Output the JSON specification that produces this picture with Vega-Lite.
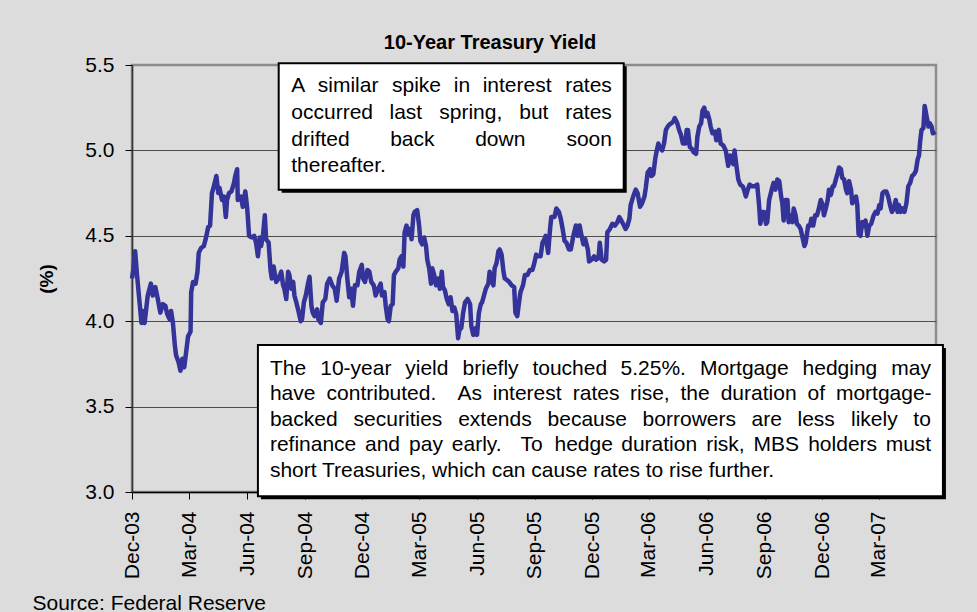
{
  "$schema": "https://vega.github.io/schema/vega-lite/v6.json",
  "width": 804,
  "height": 427,
  "autosize": {"type": "none"},
  "padding": {"left": 132, "top": 65, "right": 41, "bottom": 120},
  "background": "#dcdcdc",
  "title": {"text": "10-Year Treasury Yield", "font": "Liberation Sans", "fontSize": 20, "fontWeight": "bold", "color": "black", "frame": "group", "anchor": "middle", "dx": -44, "dy": 31, "offset": 16, "baseline": "alphabetic"},
  "config": {
    "font": "Liberation Sans",
    "view": {"stroke": "#8c8c8c", "strokeWidth": 2.5, "fill": "#dcdcdc"},
    "axis": {"labelColor": "black", "titleColor": "black", "tickColor": "black", "domainColor": "black", "labelFont": "Liberation Sans", "titleFont": "Liberation Sans"}
  },
  "datasets": {
    "yield": [
      {"date":"2003-12-01","yield":4.25},{"date":"2003-12-03","yield":4.30},{"date":"2003-12-06","yield":4.41},{"date":"2003-12-09","yield":4.27},{"date":"2003-12-13","yield":4.11},{"date":"2003-12-16","yield":3.99},{"date":"2003-12-18","yield":4.06},{"date":"2003-12-21","yield":3.99},{"date":"2003-12-26","yield":4.15},{"date":"2003-12-31","yield":4.22},
      {"date":"2004-01-03","yield":4.15},{"date":"2004-01-07","yield":4.20},{"date":"2004-01-11","yield":4.13},{"date":"2004-01-15","yield":4.05},{"date":"2004-01-19","yield":4.10},{"date":"2004-01-23","yield":4.09},{"date":"2004-01-26","yield":4.04},{"date":"2004-01-30","yield":4.01},
      {"date":"2004-02-01","yield":4.06},{"date":"2004-02-04","yield":3.99},{"date":"2004-02-07","yield":3.86},{"date":"2004-02-09","yield":3.80},{"date":"2004-02-13","yield":3.76},{"date":"2004-02-16","yield":3.71},{"date":"2004-02-19","yield":3.78},{"date":"2004-02-22","yield":3.73},{"date":"2004-02-25","yield":3.82},{"date":"2004-02-28","yield":3.91},
      {"date":"2004-03-03","yield":3.94},{"date":"2004-03-04","yield":4.17},{"date":"2004-03-07","yield":4.23},{"date":"2004-03-11","yield":4.22},{"date":"2004-03-14","yield":4.29},{"date":"2004-03-16","yield":4.40},{"date":"2004-03-20","yield":4.43},{"date":"2004-03-24","yield":4.44},{"date":"2004-03-27","yield":4.48},{"date":"2004-03-31","yield":4.55},
      {"date":"2004-04-03","yield":4.56},{"date":"2004-04-06","yield":4.75},{"date":"2004-04-09","yield":4.79},{"date":"2004-04-13","yield":4.85},{"date":"2004-04-16","yield":4.75},{"date":"2004-04-18","yield":4.78},{"date":"2004-04-22","yield":4.71},{"date":"2004-04-25","yield":4.73},{"date":"2004-04-28","yield":4.61},{"date":"2004-04-30","yield":4.71},
      {"date":"2004-05-03","yield":4.75},{"date":"2004-05-07","yield":4.76},{"date":"2004-05-11","yield":4.81},{"date":"2004-05-13","yield":4.85},{"date":"2004-05-16","yield":4.89},{"date":"2004-05-17","yield":4.71},{"date":"2004-05-22","yield":4.73},{"date":"2004-05-25","yield":4.67},{"date":"2004-05-29","yield":4.76},
      {"date":"2004-06-01","yield":4.66},{"date":"2004-06-04","yield":4.50},{"date":"2004-06-08","yield":4.49},{"date":"2004-06-12","yield":4.50},{"date":"2004-06-15","yield":4.46},{"date":"2004-06-18","yield":4.38},{"date":"2004-06-21","yield":4.49},{"date":"2004-06-23","yield":4.44},{"date":"2004-06-26","yield":4.50},{"date":"2004-06-29","yield":4.62},
      {"date":"2004-07-01","yield":4.48},{"date":"2004-07-05","yield":4.46},{"date":"2004-07-08","yield":4.30},{"date":"2004-07-10","yield":4.25},{"date":"2004-07-13","yield":4.32},{"date":"2004-07-17","yield":4.23},{"date":"2004-07-21","yield":4.25},{"date":"2004-07-25","yield":4.29},{"date":"2004-07-28","yield":4.21},{"date":"2004-07-30","yield":4.19},
      {"date":"2004-08-02","yield":4.13},{"date":"2004-08-05","yield":4.29},{"date":"2004-08-07","yield":4.27},{"date":"2004-08-10","yield":4.19},{"date":"2004-08-13","yield":4.23},{"date":"2004-08-15","yield":4.15},{"date":"2004-08-18","yield":4.11},{"date":"2004-08-22","yield":4.05},{"date":"2004-08-25","yield":4.00},{"date":"2004-08-27","yield":4.01},{"date":"2004-08-30","yield":4.11},
      {"date":"2004-09-02","yield":4.15},{"date":"2004-09-05","yield":4.21},{"date":"2004-09-08","yield":4.26},{"date":"2004-09-11","yield":4.09},{"date":"2004-09-13","yield":4.05},{"date":"2004-09-16","yield":4.03},{"date":"2004-09-20","yield":4.07},{"date":"2004-09-22","yield":4.01},{"date":"2004-09-26","yield":3.99},{"date":"2004-09-29","yield":4.11},
      {"date":"2004-10-03","yield":4.13},{"date":"2004-10-06","yield":4.22},{"date":"2004-10-10","yield":4.25},{"date":"2004-10-14","yield":4.21},{"date":"2004-10-18","yield":4.19},{"date":"2004-10-21","yield":4.12},{"date":"2004-10-25","yield":4.25},{"date":"2004-10-29","yield":4.29},
      {"date":"2004-11-02","yield":4.40},{"date":"2004-11-04","yield":4.38},{"date":"2004-11-07","yield":4.25},{"date":"2004-11-10","yield":4.14},{"date":"2004-11-13","yield":4.19},{"date":"2004-11-16","yield":4.09},{"date":"2004-11-19","yield":4.21},{"date":"2004-11-23","yield":4.21},{"date":"2004-11-26","yield":4.29},{"date":"2004-11-30","yield":4.33},
      {"date":"2004-12-02","yield":4.25},{"date":"2004-12-05","yield":4.23},{"date":"2004-12-09","yield":4.30},{"date":"2004-12-12","yield":4.29},{"date":"2004-12-15","yield":4.23},{"date":"2004-12-19","yield":4.21},{"date":"2004-12-22","yield":4.15},{"date":"2004-12-26","yield":4.19},{"date":"2004-12-30","yield":4.22},
      {"date":"2005-01-01","yield":4.15},{"date":"2005-01-05","yield":4.17},{"date":"2005-01-07","yield":4.09},{"date":"2005-01-10","yield":4.01},{"date":"2005-01-12","yield":4.00},{"date":"2005-01-15","yield":4.09},{"date":"2005-01-18","yield":4.10},{"date":"2005-01-20","yield":4.27},{"date":"2005-01-23","yield":4.29},{"date":"2005-01-27","yield":4.31},{"date":"2005-01-29","yield":4.36},
      {"date":"2005-02-01","yield":4.38},{"date":"2005-02-04","yield":4.32},{"date":"2005-02-06","yield":4.52},{"date":"2005-02-09","yield":4.56},{"date":"2005-02-12","yield":4.51},{"date":"2005-02-14","yield":4.54},{"date":"2005-02-17","yield":4.48},{"date":"2005-02-20","yield":4.62},{"date":"2005-02-22","yield":4.64},{"date":"2005-02-26","yield":4.65},
      {"date":"2005-03-01","yield":4.56},{"date":"2005-03-03","yield":4.47},{"date":"2005-03-06","yield":4.45},{"date":"2005-03-09","yield":4.49},{"date":"2005-03-12","yield":4.44},{"date":"2005-03-14","yield":4.36},{"date":"2005-03-17","yield":4.31},{"date":"2005-03-20","yield":4.22},{"date":"2005-03-22","yield":4.31},{"date":"2005-03-25","yield":4.27},{"date":"2005-03-28","yield":4.21},{"date":"2005-03-31","yield":4.25},
      {"date":"2005-04-03","yield":4.19},{"date":"2005-04-06","yield":4.29},{"date":"2005-04-08","yield":4.20},{"date":"2005-04-11","yield":4.18},{"date":"2005-04-14","yield":4.13},{"date":"2005-04-17","yield":4.10},{"date":"2005-04-20","yield":4.14},{"date":"2005-04-23","yield":4.06},{"date":"2005-04-26","yield":4.08},{"date":"2005-04-29","yield":4.04},
      {"date":"2005-05-02","yield":3.90},{"date":"2005-05-04","yield":3.95},{"date":"2005-05-07","yield":3.96},{"date":"2005-05-10","yield":4.05},{"date":"2005-05-13","yield":4.11},{"date":"2005-05-17","yield":4.13},{"date":"2005-05-21","yield":4.10},{"date":"2005-05-23","yield":3.97},{"date":"2005-05-26","yield":3.92},{"date":"2005-05-30","yield":3.96},
      {"date":"2005-06-01","yield":3.92},{"date":"2005-06-04","yield":4.05},{"date":"2005-06-07","yield":4.10},{"date":"2005-06-09","yield":4.11},{"date":"2005-06-12","yield":4.15},{"date":"2005-06-15","yield":4.19},{"date":"2005-06-19","yield":4.22},{"date":"2005-06-21","yield":4.29},{"date":"2005-06-24","yield":4.25},{"date":"2005-06-27","yield":4.21},{"date":"2005-06-29","yield":4.31},
      {"date":"2005-07-02","yield":4.34},{"date":"2005-07-05","yield":4.41},{"date":"2005-07-07","yield":4.42},{"date":"2005-07-10","yield":4.39},{"date":"2005-07-13","yield":4.29},{"date":"2005-07-15","yield":4.25},{"date":"2005-07-19","yield":4.24},{"date":"2005-07-22","yield":4.23},{"date":"2005-07-26","yield":4.21},{"date":"2005-07-30","yield":4.20},
      {"date":"2005-08-01","yield":4.05},{"date":"2005-08-04","yield":4.03},{"date":"2005-08-06","yield":4.09},{"date":"2005-08-09","yield":4.17},{"date":"2005-08-13","yield":4.21},{"date":"2005-08-16","yield":4.27},{"date":"2005-08-20","yield":4.27},{"date":"2005-08-24","yield":4.30},{"date":"2005-08-28","yield":4.30},{"date":"2005-08-31","yield":4.34},
      {"date":"2005-09-03","yield":4.39},{"date":"2005-09-06","yield":4.38},{"date":"2005-09-10","yield":4.38},{"date":"2005-09-13","yield":4.46},{"date":"2005-09-16","yield":4.48},{"date":"2005-09-18","yield":4.50},{"date":"2005-09-22","yield":4.40},{"date":"2005-09-25","yield":4.54},{"date":"2005-09-27","yield":4.61},
      {"date":"2005-10-02","yield":4.61},{"date":"2005-10-05","yield":4.66},{"date":"2005-10-09","yield":4.64},{"date":"2005-10-12","yield":4.60},{"date":"2005-10-15","yield":4.54},{"date":"2005-10-18","yield":4.47},{"date":"2005-10-21","yield":4.46},{"date":"2005-10-25","yield":4.42},{"date":"2005-10-28","yield":4.42},
      {"date":"2005-11-01","yield":4.50},{"date":"2005-11-05","yield":4.56},{"date":"2005-11-08","yield":4.50},{"date":"2005-11-11","yield":4.56},{"date":"2005-11-14","yield":4.50},{"date":"2005-11-17","yield":4.45},{"date":"2005-11-20","yield":4.48},{"date":"2005-11-24","yield":4.42},{"date":"2005-11-26","yield":4.35},{"date":"2005-11-30","yield":4.36},
      {"date":"2005-12-04","yield":4.38},{"date":"2005-12-07","yield":4.36},{"date":"2005-12-11","yield":4.37},{"date":"2005-12-13","yield":4.46},{"date":"2005-12-16","yield":4.36},{"date":"2005-12-20","yield":4.35},{"date":"2005-12-23","yield":4.36},{"date":"2005-12-25","yield":4.52},{"date":"2005-12-29","yield":4.54},
      {"date":"2006-01-02","yield":4.57},{"date":"2006-01-06","yield":4.56},{"date":"2006-01-10","yield":4.58},{"date":"2006-01-13","yield":4.61},{"date":"2006-01-16","yield":4.59},{"date":"2006-01-19","yield":4.57},{"date":"2006-01-23","yield":4.54},{"date":"2006-01-26","yield":4.56},{"date":"2006-01-29","yield":4.60},{"date":"2006-01-31","yield":4.68},
      {"date":"2006-02-04","yield":4.73},{"date":"2006-02-08","yield":4.77},{"date":"2006-02-11","yield":4.75},{"date":"2006-02-15","yield":4.67},{"date":"2006-02-18","yield":4.69},{"date":"2006-02-22","yield":4.73},{"date":"2006-02-24","yield":4.78},{"date":"2006-02-27","yield":4.87},
      {"date":"2006-03-03","yield":4.89},{"date":"2006-03-05","yield":4.85},{"date":"2006-03-08","yield":4.86},{"date":"2006-03-11","yield":4.95},{"date":"2006-03-13","yield":4.99},{"date":"2006-03-16","yield":5.04},{"date":"2006-03-18","yield":5.02},{"date":"2006-03-22","yield":5.00},{"date":"2006-03-25","yield":5.04},{"date":"2006-03-28","yield":5.12},{"date":"2006-03-31","yield":5.14},
      {"date":"2006-04-02","yield":5.15},{"date":"2006-04-06","yield":5.16},{"date":"2006-04-09","yield":5.17},{"date":"2006-04-11","yield":5.19},{"date":"2006-04-15","yield":5.16},{"date":"2006-04-18","yield":5.12},{"date":"2006-04-21","yield":5.09},{"date":"2006-04-24","yield":5.04},{"date":"2006-04-28","yield":5.04},{"date":"2006-04-30","yield":5.12},
      {"date":"2006-05-02","yield":5.12},{"date":"2006-05-05","yield":5.02},{"date":"2006-05-08","yield":5.01},{"date":"2006-05-11","yield":4.99},{"date":"2006-05-15","yield":4.98},{"date":"2006-05-17","yield":5.08},{"date":"2006-05-20","yield":5.14},{"date":"2006-05-23","yield":5.16},{"date":"2006-05-25","yield":5.23},{"date":"2006-05-28","yield":5.25},{"date":"2006-05-30","yield":5.20},
      {"date":"2006-06-02","yield":5.22},{"date":"2006-06-05","yield":5.18},{"date":"2006-06-07","yield":5.14},{"date":"2006-06-10","yield":5.10},{"date":"2006-06-14","yield":5.11},{"date":"2006-06-16","yield":5.06},{"date":"2006-06-20","yield":5.12},{"date":"2006-06-23","yield":5.04},{"date":"2006-06-27","yield":5.03},
      {"date":"2006-07-01","yield":5.00},{"date":"2006-07-05","yield":4.91},{"date":"2006-07-08","yield":4.97},{"date":"2006-07-10","yield":4.95},{"date":"2006-07-13","yield":4.92},{"date":"2006-07-15","yield":5.00},{"date":"2006-07-18","yield":4.91},{"date":"2006-07-21","yield":4.83},{"date":"2006-07-24","yield":4.80},{"date":"2006-07-28","yield":4.79},{"date":"2006-07-30","yield":4.77},
      {"date":"2006-08-02","yield":4.73},{"date":"2006-08-05","yield":4.77},{"date":"2006-08-08","yield":4.80},{"date":"2006-08-12","yield":4.79},{"date":"2006-08-16","yield":4.79},{"date":"2006-08-20","yield":4.80},{"date":"2006-08-23","yield":4.68},{"date":"2006-08-25","yield":4.57},{"date":"2006-08-28","yield":4.64},{"date":"2006-08-31","yield":4.64},
      {"date":"2006-09-03","yield":4.57},{"date":"2006-09-05","yield":4.58},{"date":"2006-09-08","yield":4.71},{"date":"2006-09-12","yield":4.77},{"date":"2006-09-15","yield":4.81},{"date":"2006-09-18","yield":4.77},{"date":"2006-09-21","yield":4.83},{"date":"2006-09-24","yield":4.82},{"date":"2006-09-27","yield":4.73},{"date":"2006-09-29","yield":4.69},
      {"date":"2006-10-01","yield":4.59},{"date":"2006-10-04","yield":4.71},{"date":"2006-10-07","yield":4.71},{"date":"2006-10-09","yield":4.58},{"date":"2006-10-12","yield":4.62},{"date":"2006-10-15","yield":4.58},{"date":"2006-10-17","yield":4.66},{"date":"2006-10-20","yield":4.62},{"date":"2006-10-22","yield":4.57},{"date":"2006-10-25","yield":4.56},{"date":"2006-10-28","yield":4.54},{"date":"2006-10-31","yield":4.49},
      {"date":"2006-11-03","yield":4.44},{"date":"2006-11-05","yield":4.46},{"date":"2006-11-07","yield":4.51},{"date":"2006-11-09","yield":4.56},{"date":"2006-11-12","yield":4.56},{"date":"2006-11-14","yield":4.60},{"date":"2006-11-17","yield":4.56},{"date":"2006-11-20","yield":4.62},{"date":"2006-11-23","yield":4.62},{"date":"2006-11-26","yield":4.66},{"date":"2006-11-29","yield":4.71},
      {"date":"2006-12-02","yield":4.68},{"date":"2006-12-04","yield":4.62},{"date":"2006-12-07","yield":4.66},{"date":"2006-12-10","yield":4.71},{"date":"2006-12-12","yield":4.77},{"date":"2006-12-15","yield":4.74},{"date":"2006-12-18","yield":4.79},{"date":"2006-12-20","yield":4.79},{"date":"2006-12-23","yield":4.83},{"date":"2006-12-26","yield":4.87},{"date":"2006-12-28","yield":4.90},{"date":"2006-12-31","yield":4.89},
      {"date":"2007-01-02","yield":4.84},{"date":"2007-01-05","yield":4.83},{"date":"2007-01-08","yield":4.77},{"date":"2007-01-10","yield":4.75},{"date":"2007-01-13","yield":4.82},{"date":"2007-01-16","yield":4.77},{"date":"2007-01-18","yield":4.69},{"date":"2007-01-21","yield":4.71},{"date":"2007-01-24","yield":4.73},{"date":"2007-01-26","yield":4.68},{"date":"2007-01-28","yield":4.51},{"date":"2007-01-31","yield":4.50},
      {"date":"2007-02-03","yield":4.58},{"date":"2007-02-06","yield":4.56},{"date":"2007-02-08","yield":4.59},{"date":"2007-02-11","yield":4.50},{"date":"2007-02-14","yield":4.56},{"date":"2007-02-17","yield":4.57},{"date":"2007-02-21","yield":4.62},{"date":"2007-02-24","yield":4.64},{"date":"2007-02-27","yield":4.63},
      {"date":"2007-03-02","yield":4.68},{"date":"2007-03-04","yield":4.66},{"date":"2007-03-07","yield":4.75},{"date":"2007-03-10","yield":4.76},{"date":"2007-03-13","yield":4.76},{"date":"2007-03-16","yield":4.73},{"date":"2007-03-19","yield":4.68},{"date":"2007-03-22","yield":4.64},{"date":"2007-03-25","yield":4.66},{"date":"2007-03-28","yield":4.71},{"date":"2007-03-31","yield":4.64},
      {"date":"2007-04-02","yield":4.68},{"date":"2007-04-05","yield":4.64},{"date":"2007-04-08","yield":4.66},{"date":"2007-04-11","yield":4.64},{"date":"2007-04-14","yield":4.69},{"date":"2007-04-17","yield":4.79},{"date":"2007-04-20","yield":4.81},{"date":"2007-04-23","yield":4.85},{"date":"2007-04-26","yield":4.86},{"date":"2007-04-29","yield":4.88},
      {"date":"2007-05-02","yield":4.95},{"date":"2007-05-04","yield":4.97},{"date":"2007-05-06","yield":5.06},{"date":"2007-05-08","yield":5.12},{"date":"2007-05-11","yield":5.13},{"date":"2007-05-13","yield":5.26},{"date":"2007-05-16","yield":5.20},{"date":"2007-05-19","yield":5.14},{"date":"2007-05-21","yield":5.16},{"date":"2007-05-24","yield":5.14},{"date":"2007-05-26","yield":5.10},{"date":"2007-05-30","yield":5.11}
    ],
    "boxes": [
      {"x1":"2004-07-21","x2":"2006-01-20","y1":5.51,"y2":4.77},
      {"x1":"2004-06-18","x2":"2007-06-11","y1":3.86,"y2":2.975}
    ],
    "notes": [
      {"x":"2004-08-10","y":5.3775,"text":"A"},
      {"x":"2004-09-21","y":5.3775,"text":"similar"},
      {"x":"2005-01-17","y":5.3775,"text":"spike"},
      {"x":"2005-04-25","y":5.3775,"text":"in"},
      {"x":"2005-06-10","y":5.3775,"text":"interest"},
      {"x":"2005-10-19","y":5.3775,"text":"rates"},
      {"x":"2004-08-10","y":5.22,"text":"occurred"},
      {"x":"2005-01-13","y":5.22,"text":"last"},
      {"x":"2005-04-02","y":5.22,"text":"spring,"},
      {"x":"2005-08-07","y":5.22,"text":"but"},
      {"x":"2005-10-19","y":5.22,"text":"rates"},
      {"x":"2004-08-10","y":5.0624,"text":"drifted"},
      {"x":"2005-01-14","y":5.0624,"text":"back"},
      {"x":"2005-05-29","y":5.0624,"text":"down"},
      {"x":"2005-10-21","y":5.0624,"text":"soon"},
      {"x":"2004-08-10","y":4.9107,"text":"thereafter."},
      {"x":"2004-07-07","y":3.7205,"text":"The"},
      {"x":"2004-09-25","y":3.7205,"text":"10-year"},
      {"x":"2005-02-07","y":3.7205,"text":"yield"},
      {"x":"2005-05-09","y":3.7205,"text":"briefly"},
      {"x":"2005-08-28","y":3.7205,"text":"touched"},
      {"x":"2006-01-15","y":3.7205,"text":"5.25%."},
      {"x":"2006-05-21","y":3.7205,"text":"Mortgage"},
      {"x":"2006-10-31","y":3.7205,"text":"hedging"},
      {"x":"2007-03-21","y":3.7205,"text":"may"},
      {"x":"2004-07-07","y":3.571,"text":"have"},
      {"x":"2004-10-05","y":3.571,"text":"contributed."},
      {"x":"2005-05-01","y":3.571,"text":"As"},
      {"x":"2005-06-26","y":3.571,"text":"interest"},
      {"x":"2005-10-31","y":3.571,"text":"rates"},
      {"x":"2006-01-30","y":3.571,"text":"rise,"},
      {"x":"2006-04-20","y":3.571,"text":"the"},
      {"x":"2006-06-23","y":3.571,"text":"duration"},
      {"x":"2006-11-08","y":3.571,"text":"of"},
      {"x":"2006-12-23","y":3.571,"text":"mortgage-"},
      {"x":"2004-07-07","y":3.422,"text":"backed"},
      {"x":"2004-11-17","y":3.422,"text":"securities"},
      {"x":"2005-05-02","y":3.422,"text":"extends"},
      {"x":"2005-09-21","y":3.422,"text":"because"},
      {"x":"2006-02-19","y":3.422,"text":"borrowers"},
      {"x":"2006-08-11","y":3.422,"text":"are"},
      {"x":"2006-10-23","y":3.422,"text":"less"},
      {"x":"2007-01-16","y":3.422,"text":"likely"},
      {"x":"2007-04-25","y":3.422,"text":"to"},
      {"x":"2004-07-07","y":3.2725,"text":"refinance"},
      {"x":"2004-12-05","y":3.2725,"text":"and"},
      {"x":"2005-02-13","y":3.2725,"text":"pay"},
      {"x":"2005-04-22","y":3.2725,"text":"early."},
      {"x":"2005-08-09","y":3.2725,"text":"To"},
      {"x":"2005-10-02","y":3.2725,"text":"hedge"},
      {"x":"2006-01-16","y":3.2725,"text":"duration"},
      {"x":"2006-05-31","y":3.2725,"text":"risk,"},
      {"x":"2006-08-14","y":3.2725,"text":"MBS"},
      {"x":"2006-11-09","y":3.2725,"text":"holders"},
      {"x":"2007-03-12","y":3.2725,"text":"must"},
      {"x":"2004-07-07","y":3.123,"text":"short Treasuries, which can cause rates to rise further."}
    ]
  },
  "layer": [
    {
      "data": {"name": "yield"},
      "mark": {"type": "line", "color": "#333399", "strokeWidth": 4.5, "strokeJoin": "round"},
      "encoding": {
        "x": {
          "field": "date", "type": "temporal",
          "scale": {"type": "utc", "nice": false, "domain": [{"year": 2003, "month": 12, "date": 1, "utc": true}, {"year": 2007, "month": 5, "date": 31, "utc": true}]},
          "axis": {
            "values": [
              {"year": 2003, "month": 12, "date": 1, "utc": true},
              {"year": 2004, "month": 3, "date": 1, "utc": true},
              {"year": 2004, "month": 6, "date": 1, "utc": true},
              {"year": 2004, "month": 9, "date": 1, "utc": true},
              {"year": 2004, "month": 12, "date": 1, "utc": true},
              {"year": 2005, "month": 3, "date": 1, "utc": true},
              {"year": 2005, "month": 6, "date": 1, "utc": true},
              {"year": 2005, "month": 9, "date": 1, "utc": true},
              {"year": 2005, "month": 12, "date": 1, "utc": true},
              {"year": 2006, "month": 3, "date": 1, "utc": true},
              {"year": 2006, "month": 6, "date": 1, "utc": true},
              {"year": 2006, "month": 9, "date": 1, "utc": true},
              {"year": 2006, "month": 12, "date": 1, "utc": true},
              {"year": 2007, "month": 3, "date": 1, "utc": true}
            ],
            "format": "%b-%y",
            "labelAngle": 270, "labelAlign": "right", "labelBaseline": "middle",
            "labelFontSize": 21, "labelPadding": 12, "labelFlush": false, "labelOverlap": false,
            "tickSize": 7, "tickWidth": 1, "domainWidth": 1.5, "grid": false,
            "title": "Source: Federal Reserve", "titleFontSize": 21, "titleFontWeight": "normal",
            "titleAnchor": "start", "titleAlign": "left", "titleX": -100, "titleY": 117, "titleBaseline": "alphabetic"
          }
        },
        "y": {
          "field": "yield", "type": "quantitative",
          "scale": {"domain": [3, 5.5], "nice": false, "zero": false},
          "axis": {
            "values": [3, 3.5, 4, 4.5, 5, 5.5], "format": ".1f",
            "labelFontSize": 21, "labelPadding": 11, "tickSize": 7, "domainWidth": 1.5, "domainColor": "#333333",
            "grid": true, "gridColor": {"condition": {"test": "datum.value === 5.5", "value": "#8c8c8c"}, "value": "#4d4d4d"}, "gridWidth": 1,
            "title": "(%)", "titleFontSize": 19, "titleFontWeight": "bold", "titlePadding": 28
          }
        }
      }
    },
    {
      "data": {"name": "boxes"},
      "mark": {"type": "rect", "fill": "black", "xOffset": 3, "x2Offset": 3, "yOffset": 3, "y2Offset": 3},
      "encoding": {
        "x": {"field": "x1", "type": "temporal"},
        "x2": {"field": "x2"},
        "y": {"field": "y1", "type": "quantitative"},
        "y2": {"field": "y2"}
      }
    },
    {
      "data": {"name": "boxes"},
      "mark": {"type": "rect", "fill": "white", "stroke": "black", "strokeWidth": 2},
      "encoding": {
        "x": {"field": "x1", "type": "temporal"},
        "x2": {"field": "x2"},
        "y": {"field": "y1", "type": "quantitative"},
        "y2": {"field": "y2"}
      }
    },
    {
      "data": {"name": "notes"},
      "mark": {"type": "text", "align": "left", "baseline": "middle", "fontSize": 21, "font": "Liberation Sans", "color": "black"},
      "encoding": {
        "x": {"field": "x", "type": "temporal"},
        "y": {"field": "y", "type": "quantitative"},
        "text": {"field": "text"}
      }
    }
  ]
}
